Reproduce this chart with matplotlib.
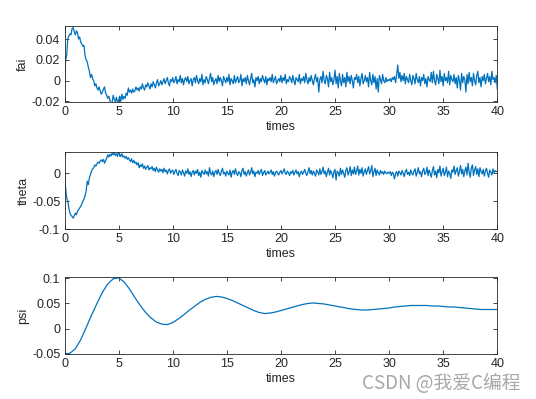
import numpy as np
import matplotlib
matplotlib.use("Agg")
import matplotlib.pyplot as plt

# time axes
t_fast = np.arange(401) * 0.1   # fai / theta samples
t_slow = np.arange(81) * 0.5    # psi samples

# values in units of 1e-3 rad
fai = np.array([
    0, 20, 24, 40, 43, 45, 44, 50, 51, 47,
    44, 48, 46, 40, 42, 37, 35, 33, 34, 24,
    20, 18, 13, 9, 3, 6, 2, 0, -5, -3,
    -7, -9, -6, -10, -13, -11, -8, -6, -12, -14,
    -17, -15, -19, -22, -21, -14, -18, -20, -16, -21,
    -19, -15, -20, -13, -18, -15, -17, -12, -14, -7,
    -11, -9, -12, -8, -11, -10, -6, -9, -7, -10,
    -6, -8, -3, -7, -9, -4, -6, -2, -5, -8,
    -3, -6, -1, -4, -7, -2, 1, -5, -3, 0,
    -4, -1, 2, -3, 0, 3, -2, -5, 1, -1,
    3, -2, 0, 4, -3, 1, -1, 5, -2, 2,
    -4, 1, 3, -1, 4, -3, 0, 2, -5, 1,
    3, -2, 5, 0, -3, 2, -1, 6, -4, 1,
    -2, 4, 1, -3, 2, 7, -1, 3, -4, 0,
    2, -3, 5, -1, 3, 0, -5, 4, 1, -2,
    3, -1, 6, -4, 2, 0, -3, 5, -2, 1,
    4, -2, 0, 6, -5, 2, -1, 3, -3, 5,
    0, -4, 2, 7, -2, 1, -6, 3, 0, 4,
    -3, 2, -1, 5, 1, -2, 4, -4, 2, 0,
    3, -1, 6, -2, 1, 4, -3, 0, 2, -1,
    5, -2, 3, 0, 6, -3, 1, -1, 4, 2,
    -2, 5, 0, -4, 3, 1, -1, 6, -3, 2,
    0, 4, -2, 7, 1, -3, 3, -1, 5, 0,
    -4, 2, 6, -1, 3, -11, 1, 4, -2, 9,
    0, -3, 5, 2, -6, 8, -1, 3, -4, 1,
    10, -3, 4, -7, 7, 0, -5, 6, -2, 3,
    -6, 8, -1, 4, -3, 5, 0, -7, 3, 1,
    6, -2, 4, -5, 2, 7, -3, 0, 5, -1,
    3, -6, 8, 0, -4, 6, -2, 4, -8, 2,
    -11, 5, 1, -3, 6, 0, -2, 3, -1, 1,
    0, 2, -1, 3, 1, 4, -2, 6, 15, 2,
    8, -1, 5, 0, 7, -3, 4, 1, -2, 6,
    0, -4, 5, 2, -3, 7, 1, -2, 4, -5,
    3, 0, 6, -3, 2, -6, 4, 1, -1, 8,
    -2, 9, 0, -4, 6, 2, -3, 10, -1, 4,
    -5, 7, 0, 3, -2, 9, -4, 5, 1, -1,
    6, -3, 3, -7, 5, 0, -9, 7, -2, 4,
    1, -11, 6, -3, 8, -1, 3, -5, 7, 0,
    -4, 5, 9, -2, 3, -6, 4, 0, 6, -3,
    2, 7, -1, 4, -4, 9, 1, 3, -2, 5,
    -8]) * 1e-3

theta = np.array([
    0, -26, -44, -49, -62, -71, -75, -77, -80, -76,
    -71, -74, -68, -65, -62, -59, -55, -50, -46, -40,
    -32, -14, -20, -8, -2, 4, 8, 10, 15, 13,
    17, 20, 18, 22, 24, 21, 25, 18, 23, 27,
    33, 29, 34, 31, 36, 33, 37, 32, 35, 30,
    38, 34, 30, 35, 29, 31, 27, 30, 25, 28,
    24, 21, 26, 19, 23, 18, 20, 15, 19, 10,
    15, 12, 17, 9, 13, 7, 11, 14, 6, 10,
    8, 12, 5, 9, 3, 11, 6, 2, 8, 4,
    7, 1, 9, 3, 6, -1, 5, 8, 0, 4,
    6, -2, 3, 7, 0, -4, 5, 2, -3, 6,
    1, -5, 4, 0, 8, -2, 3, -6, 2, 5,
    -3, 4, 0, 7, -4, 2, -7, 5, 1, -2,
    6, -1, 3, -5, 10, 0, -3, 4, -6, 2,
    5, -2, 7, 0, -4, 3, 9, -1, 2, -5,
    4, 0, -3, 6, -7, 2, 5, -2, 8, 0,
    -4, 3, 1, -6, 5, 9, -2, 3, -5, 1,
    6, -3, 2, 10, -1, 4, -6, 2, 0, 5,
    -2, 3, 7, -4, 1, 5, -3, 0, 4, -1,
    2, 6, -2, 3, -5, 1, 4, 0, -3, 2,
    5, -1, 3, 8, 0, -2, 4, 1, -4, 3,
    0, 5, -3, 2, 6, -1, 3, -6, 1, 4,
    -2, 2, 7, 0, -4, 3, 10, -1, 5, -3,
    4, 0, -5, 6, 2, -3, 8, -2, 3, 11,
    -1, 4, -6, 2, 9, -3, 5, 0, -8, 3,
    7, -12, 4, 1, -5, 9, -2, 6, 0, -7,
    5, 10, -3, 2, 12, -4, 6, -1, 11, -2,
    4, 13, -3, 7, 0, 10, -5, 3, 8, -2,
    5, 12, -1, 4, 14, -6, 3, 9, -4, 6,
    1, -3, 5, 0, 3, -2, 4, 1, -1, 2,
    0, 3, -4, 2, -1, -10, 0, 3, -5, 4,
    1, -3, 5, 0, -6, 3, 7, -2, 2, -4,
    6, 0, -3, 4, 8, -5, 2, 10, -1, 3,
    -6, 4, 9, -2, 1, 11, -4, 6, 0, -7,
    5, 12, -3, 4, -8, 7, 1, 13, -5, 3,
    9, -4, 2, 11, -6, 4, 0, -9, 6, 2,
    13, -2, 5, 10, -5, 3, 14, -1, 7, -6,
    4, 11, -3, 18, 2, -7, 9, 15, -4, 6,
    12, -2, 8, -6, 10, 3, -1, 7, -5, 4,
    9, 0, -7, 6, 2, -3, 8, 1, 5, 3,
    4]) * 1e-3

psi = np.array([
    -50, -49, -40, -22, 2, 27, 50, 72, 89, 99,
    101, 93, 79, 62, 46, 32, 21, 13, 9, 8,
    12, 19, 27, 36, 44, 52, 58, 62, 64, 63,
    60, 56, 51, 46, 41, 36, 32, 30, 31, 33,
    36, 39, 42, 45, 48, 50, 51, 50, 49, 47,
    45, 43, 41, 39, 38, 37, 37, 38, 39, 40,
    41, 43, 44, 45, 46, 46, 46, 46, 45, 45,
    44, 43, 43, 42, 41, 40, 39, 38, 38, 38,
    38]) * 1e-3

plt.rcParams['font.family'] = ['Liberation Sans', 'DejaVu Sans']
plt.rcParams['font.size'] = 9
txt = '#262626'

fig = plt.figure(figsize=(5.36, 3.99), dpi=100)
W, H = 536.0, 399.0

def make_ax(top, bot):
    return fig.add_axes([64.5 / W, 1 - bot / H, (497.3 - 64.5) / W, (bot - top) / H])

panels = [
    (26, 102, t_fast, fai, 'fai', (-0.0205, 0.0525), [-0.02, 0, 0.02, 0.04], ['-0.02', '0', '0.02', '0.04']),
    (151.7, 229.3, t_fast, theta, 'theta', (-0.1, 0.0386), [-0.1, -0.05, 0], ['-0.1', '-0.05', '0']),
    (277.3, 354.3, t_slow, psi, 'psi', (-0.051, 0.102), [-0.05, 0, 0.05, 0.1], ['-0.05', '0', '0.05', '0.1']),
]

for top, bot, tt, yy, name, ylim, yt, ytl in panels:
    ax = make_ax(top, bot)
    ax.plot(tt, yy, color='#0072BD', lw=0.9)
    ax.set_xlim(0, 40)
    ax.set_ylim(*ylim)
    ax.set_xticks(range(0, 41, 5))
    ax.set_yticks(yt)
    ax.set_yticklabels(ytl)
    ax.tick_params(direction='in', length=3, width=0.6, top=True, right=True,
                   colors=txt, labelsize=9, pad=3)
    for s in ax.spines.values():
        s.set_linewidth(0.6)
        s.set_color(txt)
    ax.set_xlabel('times', color=txt, fontsize=9, labelpad=2)
    ax.set_ylabel(name, color=txt, fontsize=9, labelpad=2)

fig.text(362 / W, 1 - 389 / H, 'CSDN @我爱C编程', fontsize=13.5, color='#a8a8a8',
         family=['Noto Sans CJK SC', 'DejaVu Sans'], va='baseline', ha='left')

fig.savefig('out.png', dpi=100)
